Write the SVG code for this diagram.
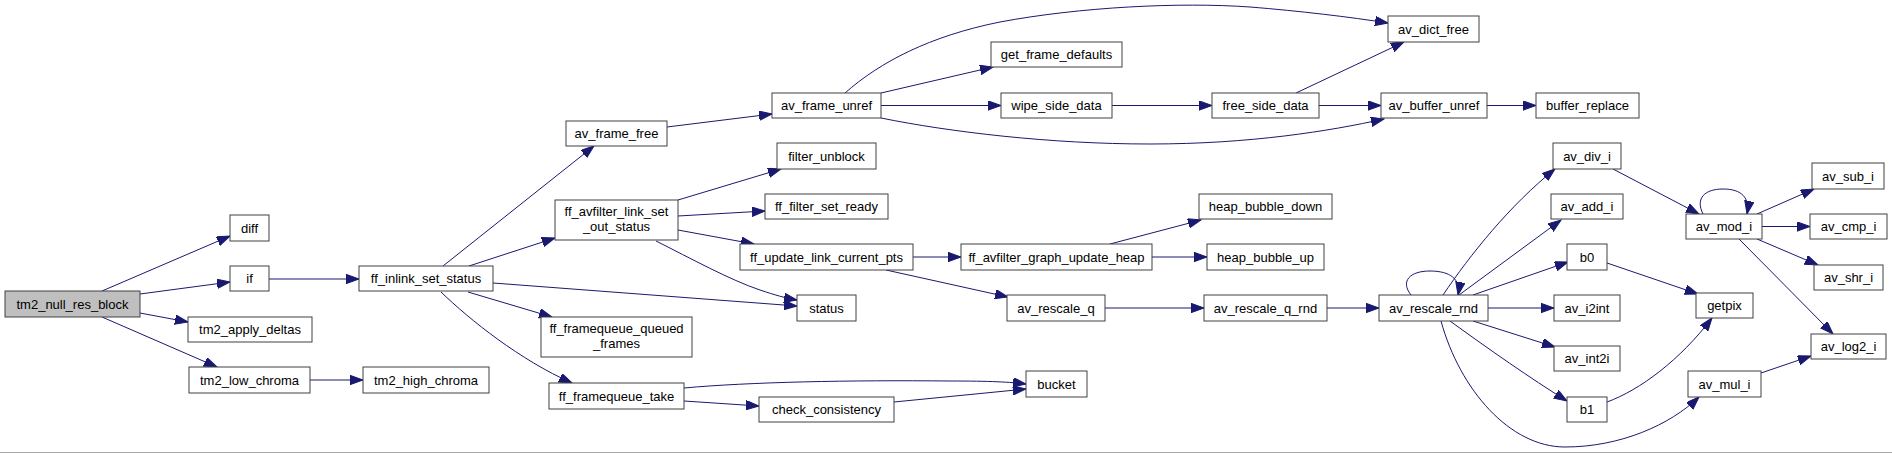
<svg xmlns="http://www.w3.org/2000/svg" width="1892" height="453" viewBox="0 0 1892 453">
<defs>
<marker id="arr" markerUnits="userSpaceOnUse" markerWidth="14" markerHeight="10" refX="13" refY="4.7" orient="auto">
<path d="M0,0 L13,4.7 L0,9.4 z" fill="#191970" stroke="#191970" stroke-width="1"/>
</marker>
<style>
.n rect{fill:#ffffff;stroke:#404040;stroke-width:1}
.n.root rect{fill:#bfbfbf}
.n text{font-family:"Liberation Sans",Arial,sans-serif;font-size:13px;fill:#000;text-anchor:middle}
#edges path{fill:none;stroke:#191970;stroke-width:1;marker-end:url(#arr)}
</style>
</defs>
<rect x="0" y="0" width="1892" height="453" fill="#ffffff"/>
<line x1="0" y1="452.5" x2="1892" y2="452.5" stroke="#a8a8a8" stroke-width="1"/>
<g id="edges">
<path d="M102,291 L230,236"/>
<path d="M140,294 L230,282"/>
<path d="M140,313 L188,322"/>
<path d="M102,317 L217,367"/>
<path d="M269,279 L359,279"/>
<path d="M310,380 L363,380"/>
<path d="M443,266 L594,146"/>
<path d="M469,266 L555,238"/>
<path d="M493,283 L797,306"/>
<path d="M468,292 L552,317"/>
<path d="M441,292 C470,320 520,360 572,383"/>
<path d="M667,127 L772,114"/>
<path d="M845,93 C880,62 930,36 1000,22 C1080,7 1180,2 1250,7 C1300,11 1350,17 1388,23"/>
<path d="M881,93 L993,67"/>
<path d="M881,105.5 L1001,105.5"/>
<path d="M881,118 C950,132 1050,144 1150,144 C1250,144 1330,131 1384,119"/>
<path d="M1112,105.5 L1212,105.5"/>
<path d="M1296,93 L1404,42"/>
<path d="M1319,105.5 L1381,105.5"/>
<path d="M1487,105.5 L1536,105.5"/>
<path d="M678,200 L781,169"/>
<path d="M678,216 L765,211"/>
<path d="M678,230 L754,244"/>
<path d="M656,241 C690,258 730,280 760,290 C775,295 785,298 797,300"/>
<path d="M913,257 L961,257"/>
<path d="M886,270 L1008,297"/>
<path d="M1110,244 L1201,220"/>
<path d="M1152,257 L1207,257"/>
<path d="M1105,308 L1204,308"/>
<path d="M1327,308 L1379,308"/>
<path d="M684,388 C750,382 850,380 950,381 C990,381 1010,382 1026,384"/>
<path d="M684,401 L759,406"/>
<path d="M894,402 L1026,389"/>
<path d="M1411,295 C1400,281 1410,271 1430,271 C1450,271 1461,279 1458,295"/>
<path d="M1443,295 C1470,255 1510,205 1555,169"/>
<path d="M1459,295 L1561,220"/>
<path d="M1473,295 L1568,262"/>
<path d="M1488,308 L1554,308"/>
<path d="M1473,321 L1555,347"/>
<path d="M1450,321 C1490,350 1530,378 1567,401"/>
<path d="M1441,321 C1460,390 1510,447 1565,447 C1620,447 1670,425 1699,397"/>
<path d="M1613,169 L1699,214"/>
<path d="M1703,214 C1695,198 1705,189 1723,189 C1742,189 1750,198 1747,214"/>
<path d="M1757,214 L1814,189"/>
<path d="M1762,226.5 L1810,226.5"/>
<path d="M1757,239 L1818,265"/>
<path d="M1739,239 L1833,334"/>
<path d="M1607,263 L1698,294"/>
<path d="M1607,402 C1640,390 1680,360 1712,318"/>
<path d="M1761,373 L1811,356"/>
</g>
<g id="tm2_null_res_block" class="n root"><rect x="5" y="291" width="135" height="26"/><text x="72.5" y="308.5">tm2_null_res_block</text></g>
<g id="diff" class="n"><rect x="230" y="215" width="39" height="26"/><text x="249.5" y="232.5">diff</text></g>
<g id="if" class="n"><rect x="230" y="266" width="39" height="25"/><text x="249.5" y="283">if</text></g>
<g id="tm2_apply_deltas" class="n"><rect x="188" y="317" width="124" height="25"/><text x="250" y="334">tm2_apply_deltas</text></g>
<g id="tm2_low_chroma" class="n"><rect x="189" y="367" width="121" height="26"/><text x="249.5" y="384.5">tm2_low_chroma</text></g>
<g id="tm2_high_chroma" class="n"><rect x="363" y="367" width="126" height="26"/><text x="426" y="384.5">tm2_high_chroma</text></g>
<g id="ff_inlink_set_status" class="n"><rect x="359" y="266" width="134" height="25"/><text x="426" y="283">ff_inlink_set_status</text></g>
<g id="av_frame_free" class="n"><rect x="566" y="121" width="101" height="25"/><text x="616.5" y="138">av_frame_free</text></g>
<g id="av_frame_unref" class="n"><rect x="772" y="93" width="109" height="25"/><text x="826.5" y="110">av_frame_unref</text></g>
<g id="get_frame_defaults" class="n"><rect x="991" y="42" width="131" height="25"/><text x="1056.5" y="59">get_frame_defaults</text></g>
<g id="wipe_side_data" class="n"><rect x="1001" y="93" width="111" height="25"/><text x="1056.5" y="110">wipe_side_data</text></g>
<g id="free_side_data" class="n"><rect x="1212" y="93" width="107" height="25"/><text x="1265.5" y="110">free_side_data</text></g>
<g id="av_dict_free" class="n"><rect x="1388" y="16" width="91" height="26"/><text x="1433.5" y="33.5">av_dict_free</text></g>
<g id="av_buffer_unref" class="n"><rect x="1381" y="93" width="106" height="25"/><text x="1434" y="110">av_buffer_unref</text></g>
<g id="buffer_replace" class="n"><rect x="1536" y="93" width="103" height="25"/><text x="1587.5" y="110">buffer_replace</text></g>
<g id="filter_unblock" class="n"><rect x="777" y="143" width="99" height="26"/><text x="826.5" y="160.5">filter_unblock</text></g>
<g id="ff_filter_set_ready" class="n"><rect x="765" y="194" width="123" height="25"/><text x="826.5" y="211">ff_filter_set_ready</text></g>
<g id="ff_avfilter_link_set_out_status" class="n"><rect x="555" y="200" width="123" height="40"/><text x="616.5" y="216">ff_avfilter_link_set</text><text x="616.5" y="231">_out_status</text></g>
<g id="ff_update_link_current_pts" class="n"><rect x="740" y="244" width="173" height="26"/><text x="826.5" y="261.5">ff_update_link_current_pts</text></g>
<g id="ff_avfilter_graph_update_heap" class="n"><rect x="961" y="244" width="191" height="26"/><text x="1056.5" y="261.5">ff_avfilter_graph_update_heap</text></g>
<g id="heap_bubble_down" class="n"><rect x="1199" y="194" width="133" height="25"/><text x="1265.5" y="211">heap_bubble_down</text></g>
<g id="heap_bubble_up" class="n"><rect x="1207" y="244" width="117" height="26"/><text x="1265.5" y="261.5">heap_bubble_up</text></g>
<g id="status" class="n"><rect x="797" y="295" width="59" height="26"/><text x="826.5" y="312.5">status</text></g>
<g id="ff_framequeue_queued_frames" class="n"><rect x="541" y="317" width="151" height="40"/><text x="616.5" y="333">ff_framequeue_queued</text><text x="616.5" y="348">_frames</text></g>
<g id="ff_framequeue_take" class="n"><rect x="549" y="383" width="135" height="26"/><text x="616.5" y="400.5">ff_framequeue_take</text></g>
<g id="check_consistency" class="n"><rect x="759" y="397" width="135" height="25"/><text x="826.5" y="414">check_consistency</text></g>
<g id="bucket" class="n"><rect x="1026" y="371" width="61" height="26"/><text x="1056.5" y="388.5">bucket</text></g>
<g id="av_rescale_q" class="n"><rect x="1007" y="295" width="98" height="26"/><text x="1056" y="312.5">av_rescale_q</text></g>
<g id="av_rescale_q_rnd" class="n"><rect x="1204" y="295" width="123" height="26"/><text x="1265.5" y="312.5">av_rescale_q_rnd</text></g>
<g id="av_rescale_rnd" class="n"><rect x="1379" y="295" width="109" height="26"/><text x="1433.5" y="312.5">av_rescale_rnd</text></g>
<g id="av_div_i" class="n"><rect x="1553" y="143" width="68" height="26"/><text x="1587" y="160.5">av_div_i</text></g>
<g id="av_add_i" class="n"><rect x="1551" y="194" width="72" height="25"/><text x="1587" y="211">av_add_i</text></g>
<g id="b0" class="n"><rect x="1567" y="244" width="40" height="26"/><text x="1587" y="261.5">b0</text></g>
<g id="av_i2int" class="n"><rect x="1554" y="295" width="66" height="26"/><text x="1587" y="312.5">av_i2int</text></g>
<g id="av_int2i" class="n"><rect x="1554" y="346" width="66" height="25"/><text x="1587" y="363">av_int2i</text></g>
<g id="b1" class="n"><rect x="1567" y="397" width="40" height="25"/><text x="1587" y="414">b1</text></g>
<g id="getpix" class="n"><rect x="1696" y="293" width="57" height="25"/><text x="1724.5" y="310">getpix</text></g>
<g id="av_mod_i" class="n"><rect x="1686" y="214" width="76" height="25"/><text x="1724" y="231">av_mod_i</text></g>
<g id="av_sub_i" class="n"><rect x="1812" y="163" width="72" height="26"/><text x="1848" y="180.5">av_sub_i</text></g>
<g id="av_cmp_i" class="n"><rect x="1810" y="214" width="77" height="25"/><text x="1848.5" y="231">av_cmp_i</text></g>
<g id="av_shr_i" class="n"><rect x="1814" y="265" width="69" height="25"/><text x="1848.5" y="282">av_shr_i</text></g>
<g id="av_log2_i" class="n"><rect x="1811" y="334" width="75" height="25"/><text x="1848.5" y="351">av_log2_i</text></g>
<g id="av_mul_i" class="n"><rect x="1688" y="371" width="73" height="26"/><text x="1724.5" y="388.5">av_mul_i</text></g>
</svg>
